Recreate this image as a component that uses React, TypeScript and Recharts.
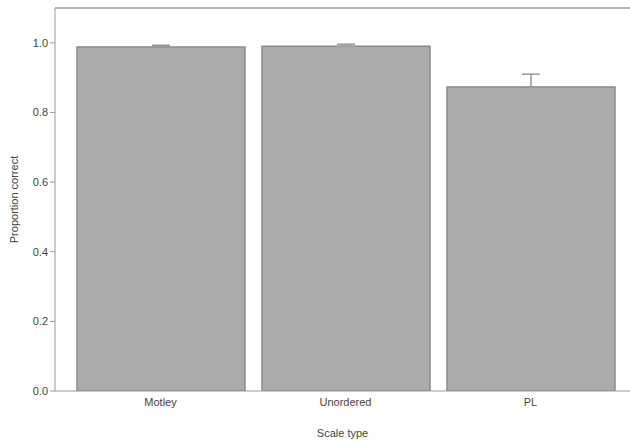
import React from "react";
import { BarChart, Bar, XAxis, YAxis, ErrorBar, ReferenceLine } from "recharts";

const categories = ["Motley", "Unordered", "PL"];
const proportions = [0.988, 0.99, 0.873];
const errorsUpper = [0.005, 0.006, 0.037];
const yTicks = [0, 0.2, 0.4, 0.6, 0.8, 1.0];

const data = categories.map((c, i) => ({
  name: c,
  value: proportions[i],
  err: [0, errorsUpper[i]],
}));

const font = "'Liberation Sans', Arial, sans-serif";
const axisColor = "#999999";
const textColor = "#444444";

export default function App() {
  return (
    <div style={{ position: "absolute", left: 0, top: 0, background: "#fff" }}>
      <BarChart
        width={630}
        height={444}
        data={data}
        margin={{ top: 8, right: 0, bottom: 0, left: 0 }}
        barSize={168}
      >
        <XAxis
          dataKey="name"
          height={53}
          padding={{ left: 13, right: 7 }}
          tickLine={false}
          stroke={axisColor}
          tick={{ fill: textColor, fontSize: 11, fontFamily: font }}
          tickMargin={1}
          label={{ value: "Scale type", position: "insideBottom", offset: 7, fill: textColor, fontSize: 11, fontFamily: font }}
        />
        <YAxis
          width={55}
          domain={[0, 1.1]}
          ticks={yTicks}
          tickFormatter={(v: number) => v.toFixed(1)}
          stroke={axisColor}
          tickSize={5}
          tick={{ fill: textColor, fontSize: 11, fontFamily: font }}
          allowDataOverflow
          label={{ value: "Proportion correct", angle: -90, position: "insideLeft", offset: 14, fill: textColor, fontSize: 11, fontFamily: font, style: { textAnchor: "middle" } }}
        />
        <ReferenceLine y={1.1} stroke={axisColor} strokeWidth={1.5} ifOverflow="visible" />
        <Bar dataKey="value" fill="#ababab" stroke="#8a8a8a" strokeWidth={1.5} isAnimationActive={false}>
          <ErrorBar dataKey="err" width={9} stroke="#999999" strokeWidth={1.5} direction="y" />
        </Bar>
      </BarChart>
    </div>
  );
}
